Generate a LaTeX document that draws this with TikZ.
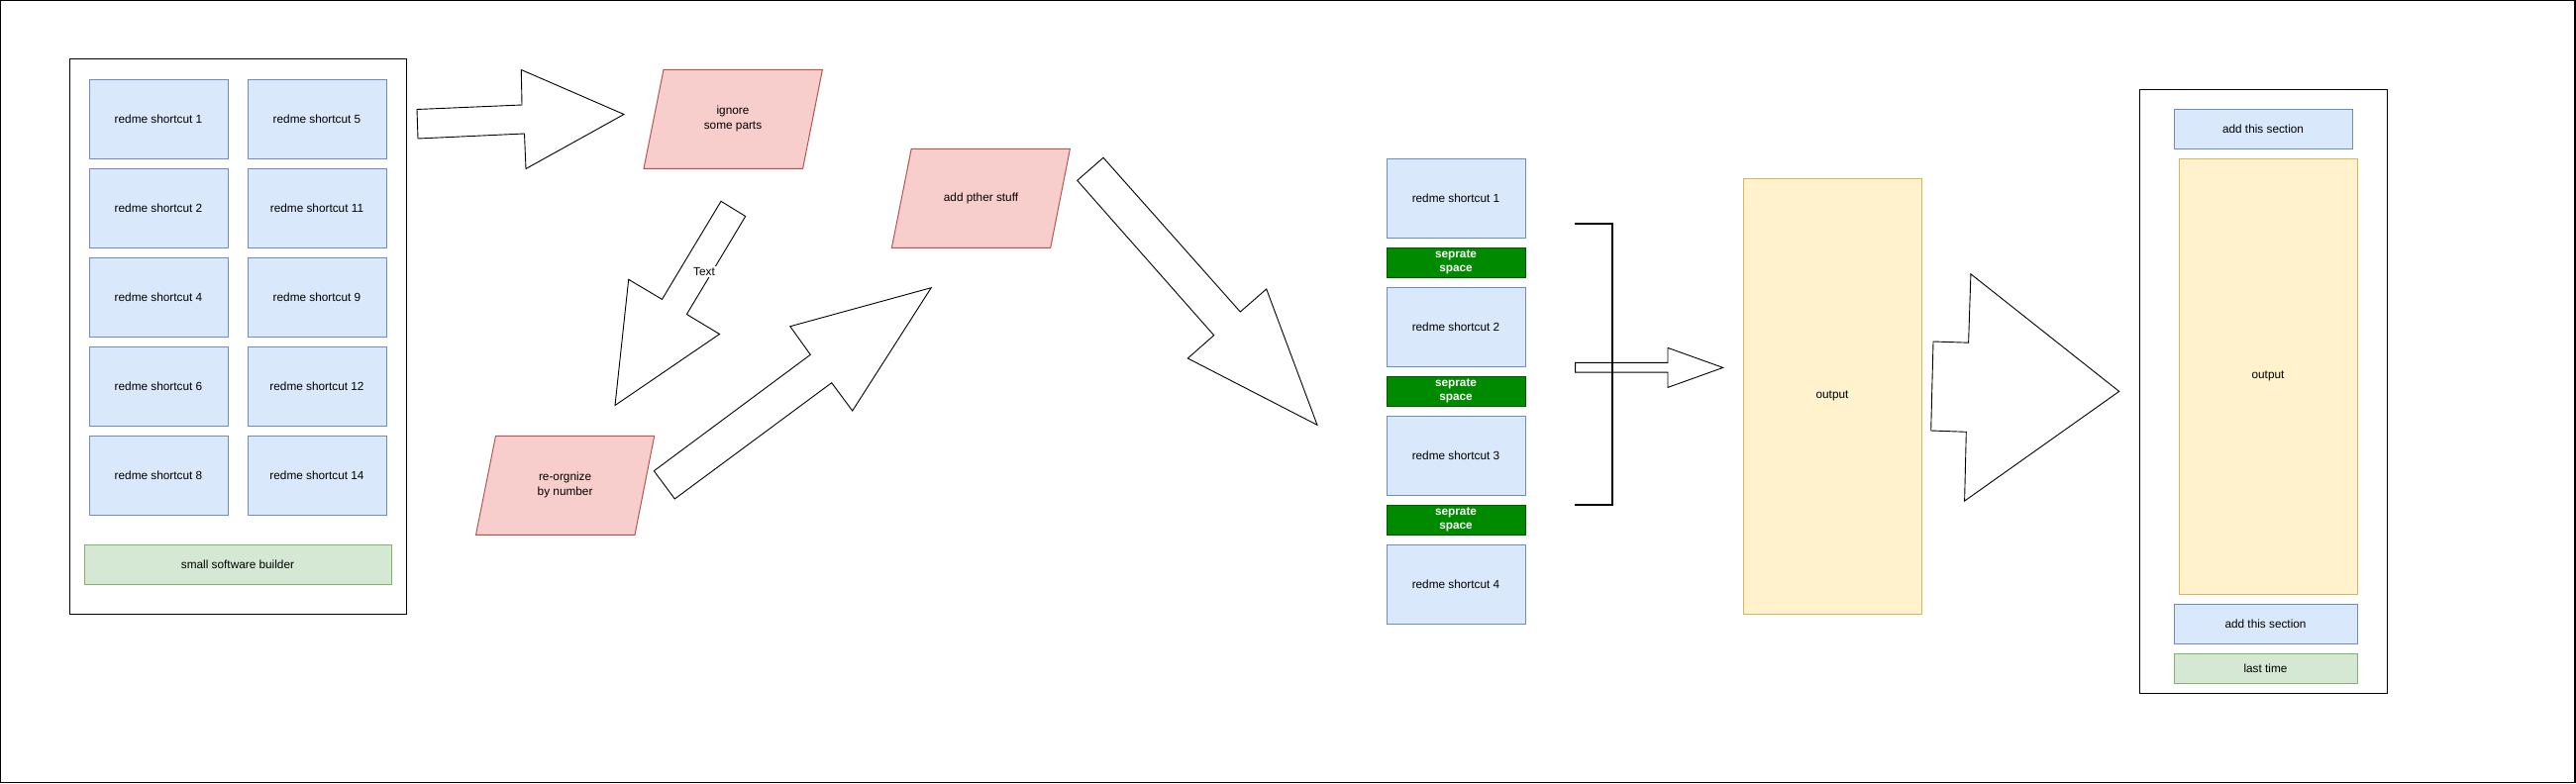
\documentclass[tikz,border=0pt]{standalone}
\usepackage{fontspec}
\setmainfont{Liberation Sans}
\usepackage{tikz}
\usetikzlibrary{shapes,calc,positioning}
\definecolor{bluefill}{HTML}{DAE8FC}
\definecolor{bluedraw}{HTML}{6C8EBF}
\definecolor{greenfill}{HTML}{D5E8D4}
\definecolor{greendraw}{HTML}{82B366}
\definecolor{redfill}{HTML}{F8CECC}
\definecolor{reddraw}{HTML}{B85450}
\definecolor{yellowfill}{HTML}{FFF2CC}
\definecolor{yellowdraw}{HTML}{D6B656}
\definecolor{sepfill}{HTML}{008A00}
\definecolor{sepdraw}{HTML}{005700}

\begin{document}
\begin{tikzpicture}[x=1pt, y=-1pt,
  every node/.style={font=\fontsize{11.8}{15}\selectfont, inner sep=0pt, align=center},
  groupbox/.style={draw=black, line width=1pt, rectangle},
  shortcut/.style={draw=bluedraw, fill=bluefill, line width=1pt, minimum width=140, minimum height=80},
  builder/.style={draw=greendraw, fill=greenfill, line width=1pt},
  sepbox/.style={draw=sepdraw, fill=sepfill, line width=1pt, text=white, font=\fontsize{11.8}{14}\selectfont\bfseries, minimum width=140, minimum height=30},
  outbox/.style={draw=yellowdraw, fill=yellowfill, line width=1pt, minimum width=180, minimum height=440},
  slanted/.style={draw=reddraw, fill=redfill, line width=1pt, line join=miter},
  blockarrow/.style={draw=black, fill=white, line width=0.9pt, line join=miter}]
\useasboundingbox (0,0) rectangle (2601,792);
\draw[line width=1.3pt] (0.8,0.8) rectangle (2600,790.3);

\node[groupbox, minimum width=340, minimum height=560] (leftgroup) at (240,340) {};
\node[shortcut] (sc1) at (160,120) {redme shortcut 1};
\node[shortcut] (sc5) at (320,120) {redme shortcut 5};
\node[shortcut] (sc2) at (160,210) {redme shortcut 2};
\node[shortcut] (sc11) at (320,210) {redme shortcut 11};
\node[shortcut] (sc4) at (160,300) {redme shortcut 4};
\node[shortcut] (sc9) at (320,300) {redme shortcut 9};
\node[shortcut] (sc6) at (160,390) {redme shortcut 6};
\node[shortcut] (sc12) at (320,390) {redme shortcut 12};
\node[shortcut] (sc8) at (160,480) {redme shortcut 8};
\node[shortcut] (sc14) at (320,480) {redme shortcut 14};
\node[builder, minimum width=310, minimum height=40] (builder) at (240,570) {small software builder};

\draw[blockarrow] (421,110.5) -- (527,106) -- (526.3,70.5) -- (630,115.5) -- (531,170.5) -- (529.5,135) -- (422,140) -- cycle;
\draw[slanted] (650,170.3) -- (670,70.3) -- (830.4,70.3) -- (810.6,170.3) -- cycle;
\node (ignore) at (740,120) {ignore\\some parts};

\draw[blockarrow] (728,203.3) -- (752.7,218.5) -- (693.4,317.5) -- (726.5,337.5) -- (621,409.5) -- (634.7,282.3) -- (668.5,302.4) -- cycle;
\node[fill=white, inner sep=1pt] (textlabel) at (711,274.5) {Text};
\draw[slanted] (480.5,540.3) -- (500.5,440.3) -- (660.7,440.3) -- (641,540.3) -- cycle;
\node (reorg) at (570.6,490) {re-orgnize\\by number};

\draw[blockarrow] (660.3,475.7) -- (681.3,504) -- (839.7,386.7) -- (860.7,415) -- (940.2,290.7) -- (797.8,329.7) -- (818.3,358.3) -- cycle;
\draw[slanted] (900.4,250.3) -- (920.2,150.3) -- (1080.4,150.3) -- (1060.7,250.3) -- cycle;
\node (other) at (990.5,200.3) {add pther stuff};

\draw[blockarrow] (1087.7,182.3) -- (1114,159.3) -- (1252.3,315) -- (1278.7,292) -- (1330,429.3) -- (1199.3,362) -- (1225.7,338.7) -- cycle;

\node[shortcut] (rs1) at (1470,200) {redme shortcut 1};
\node[sepbox] (sep1) at (1470,265) {seprate\\space};
\node[shortcut] (rs2) at (1470,330) {redme shortcut 2};
\node[sepbox] (sep2) at (1470,395) {seprate\\space};
\node[shortcut] (rs3) at (1470,460) {redme shortcut 3};
\node[sepbox] (sep3) at (1470,525) {seprate\\space};
\node[shortcut] (rs4) at (1470,590) {redme shortcut 4};

\draw[blockarrow] (1590.6,366.4) -- (1684,366.4) -- (1684,351.4) -- (1739.7,371.4) -- (1684,391.4) -- (1684,376.1) -- (1590.6,376.1) -- cycle;
\draw[line width=2pt] (1590,226) -- (1628,226) -- (1628,510) -- (1590,510);

\node[outbox] (output) at (1850,400) {output};

\draw[blockarrow] (1989.9,276.8) -- (1987.6,346.2) -- (1952,345) -- (1949.7,435) -- (1985.3,436.3) -- (1983.6,506.1) -- (2139.7,395.4) -- cycle;

\node[groupbox, minimum width=250, minimum height=610] (rightgroup) at (2285,395) {};
\node[shortcut, minimum width=180, minimum height=40] (addtop) at (2285,130) {add this section};
\node[outbox] (finalout) at (2290,380) {output};
\node[shortcut, minimum width=185, minimum height=40] (addbottom) at (2287.5,630) {add this section};
\node[builder, minimum width=185, minimum height=30] (lasttime) at (2287.5,675) {last time};
\end{tikzpicture}
\end{document}
